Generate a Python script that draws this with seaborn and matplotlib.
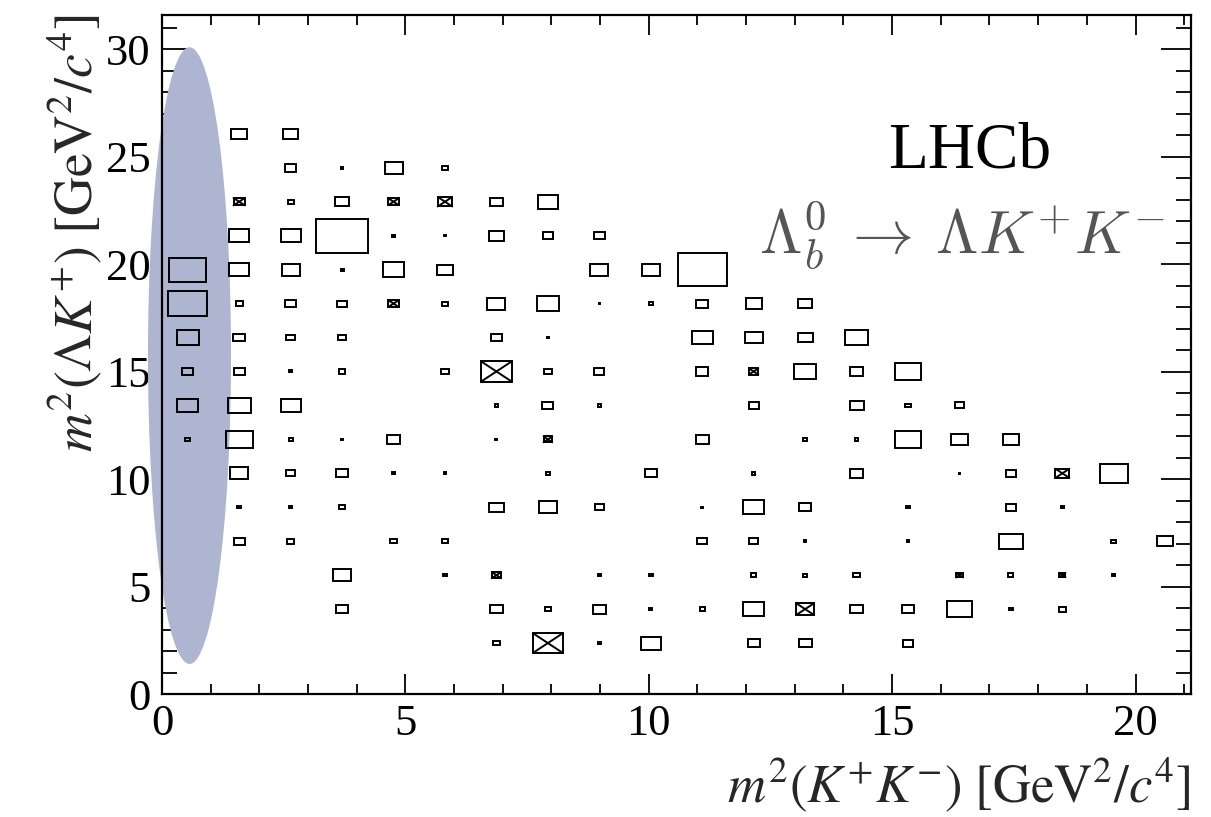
import numpy as np
import matplotlib
matplotlib.use("Agg")
import matplotlib.pyplot as plt
from matplotlib.patches import Rectangle, Ellipse
import seaborn as sns

# ---------------- data ----------------
n_xbins = 20
n_ybins = 20
x_max = 21.14
y_max = 31.6

# box size (fraction of bin) per x bin, one list per y bin; negative -> crossed box (ROOT style)
row_00 = [0] * 20
row_01 = [0, 0, 0, 0, 0, 0, 0.14, -0.57, 0.06, 0.38, 0, 0.24, 0.25, 0, 0.21, 0, 0, 0, 0, 0]
row_02 = [0, 0, 0, 0.23, 0, 0, 0.25, 0.13, 0.26, 0.06, 0.10, 0.41, -0.34, 0.25, 0.25, 0.49, 0.08, 0.14, 0, 0]
row_03 = [0, 0, 0, 0.36, 0, 0.06, -0.18, 0, 0.06, 0.07, 0, 0.10, 0.08, 0.12, 0, -0.13, 0.10, -0.12, 0.06, 0]
row_04 = [0, 0.21, 0.14, 0, 0.13, 0.12, 0, 0, 0, 0, 0.19, 0.18, 0.05, 0, 0.05, 0, 0.45, 0, 0.10, 0.31]
row_05 = [0, 0.07, 0.05, 0.12, 0, 0, 0.28, 0.36, 0.18, 0, 0.03, 0.41, 0.23, 0, 0.06, 0, 0.19, 0.07, 0, 0]
row_06 = [0, 0.35, 0.18, 0.23, 0.05, 0.05, 0, 0.07, 0, 0.23, 0, 0.07, 0, 0.25, 0, 0.03, 0.21, -0.27, 0.55, 0]
row_07 = [0.09, 0.52, 0.08, 0.04, 0.27, 0, 0.04, -0.17, 0, 0, 0.26, 0, 0.07, 0.07, 0.52, 0.34, 0.31, 0, 0, 0]
row_08 = [0.40, 0.45, 0.39, 0, 0, 0, 0.07, 0.21, 0.07, 0, 0, 0.20, 0, 0.27, 0.10, 0.18, 0, 0, 0, 0]
row_09 = [0.22, 0.22, 0.06, 0.12, 0, 0.16, -0.60, 0.16, 0.20, 0, 0.24, -0.18, 0.43, 0.25, 0.52, 0, 0, 0, 0, 0]
row_10 = [0.43, 0.23, 0.17, 0.16, 0, 0, 0.21, 0.03, 0, 0, 0.40, 0.35, 0.29, 0.46, 0, 0, 0, 0, 0, 0]
row_11 = [0.75, 0.14, 0.20, 0.18, -0.20, 0.12, 0.35, 0.43, 0.03, 0.07, 0.24, 0.31, 0.28, 0, 0, 0, 0, 0, 0, 0]
row_12 = [0.71, 0.39, 0.35, 0.06, 0.42, 0.30, 0, 0, 0.35, 0.35, 0.96, 0, 0, 0, 0, 0, 0, 0, 0, 0]
row_13 = [0, 0.39, 0.39, 1.00, 0.06, 0.03, 0.30, 0.20, 0.22, 0, 0, 0, 0, 0, 0, 0, 0, 0, 0, 0]
row_14 = [0, -0.22, 0.12, 0.27, -0.20, -0.28, 0.24, 0.40, 0, 0, 0, 0, 0, 0, 0, 0, 0, 0, 0, 0]
row_15 = [0, 0, 0.22, 0.05, 0.35, 0.12, 0, 0, 0, 0, 0, 0, 0, 0, 0, 0, 0, 0, 0, 0]
row_16 = [0, 0.30, 0.30, 0, 0, 0, 0, 0, 0, 0, 0, 0, 0, 0, 0, 0, 0, 0, 0, 0]
row_17 = [0] * 20
row_18 = [0] * 20
row_19 = [0] * 20

# phase-space excluded band (ellipse) centre / half-axes
ellipse_center = (0.565, 15.75)
ellipse_halfaxes = (0.853, 14.35)

x_ticks = [0, 5, 10, 15, 20]
y_ticks = [0, 5, 10, 15, 20, 25, 30]

# ---------------- plot ----------------
sns.set_theme(style="ticks")
plt.rcParams["font.family"] = ["Liberation Serif", "DejaVu Serif"]

fig = plt.figure(figsize=(12.11, 8.17), dpi=100)
ax = fig.add_axes([162 / 1211, 1 - 694 / 817, (1191 - 162) / 1211, (694 - 15) / 817])

rows = np.array([row_00, row_01, row_02, row_03, row_04, row_05, row_06, row_07, row_08, row_09,
                 row_10, row_11, row_12, row_13, row_14, row_15, row_16, row_17, row_18, row_19])
x_edges = np.linspace(0, x_max, n_xbins + 1)
y_edges = np.linspace(0, y_max, n_ybins + 1)
xc = 0.5 * (x_edges[:-1] + x_edges[1:])
yc = 0.5 * (y_edges[:-1] + y_edges[1:])
bw = x_edges[1] - x_edges[0]
bh = y_edges[1] - y_edges[0]

ell = Ellipse(ellipse_center, 2 * ellipse_halfaxes[0], 2 * ellipse_halfaxes[1],
              facecolor="#adb5d1", edgecolor="none", zorder=1, clip_on=False)
ax.add_patch(ell)

lw = 1.4
for j in range(n_ybins):
    for i in range(n_xbins):
        v = rows[j, i]
        if v == 0:
            continue
        s = abs(v)
        w, h = s * bw, s * bh
        x0, y0 = xc[i] - w / 2, yc[j] - h / 2
        ax.add_patch(Rectangle((x0, y0), w, h, fill=False, edgecolor="black", lw=lw, zorder=3))
        if v < 0:
            ax.plot([x0, x0 + w], [y0, y0 + h], color="black", lw=lw, zorder=3)
            ax.plot([x0, x0 + w], [y0 + h, y0], color="black", lw=lw, zorder=3)

ax.set_xlim(0, x_max)
ax.set_ylim(0, y_max)
ax.set_xticks(x_ticks)
ax.set_yticks(y_ticks)
ax.xaxis.set_minor_locator(matplotlib.ticker.MultipleLocator(1))
ax.yaxis.set_minor_locator(matplotlib.ticker.MultipleLocator(1))
ax.tick_params(axis="both", which="both", direction="in", top=True, right=True,
               colors="black", width=1.3, labelsize=32)
ax.tick_params(axis="x", which="major", length=14.4, pad=7)
ax.tick_params(axis="x", which="minor", length=7.2)
ax.tick_params(axis="y", which="major", length=21.6, pad=8)
ax.tick_params(axis="y", which="minor", length=10.8)
for sp in ax.spines.values():
    sp.set_linewidth(1.6)
    sp.set_color("black")
    sp.set_zorder(5)
ax.set_facecolor("white")

fig.text(1191 / 1211, 1 - 785 / 817, r"$m^{2}(K^{+}K^{-})\ [\mathrm{GeV}^{2}/c^{4}]$",
         ha="right", va="center", fontsize=38, math_fontfamily="stix")
fig.text(75 / 1211, 1 - 14 / 817, r"$m^{2}(\mathit{\Lambda} K^{+})\ [\mathrm{GeV}^{2}/c^{4}]$",
         ha="center", va="top", rotation=90, fontsize=38.5, math_fontfamily="stix")

ax.text(970 / 1211, 1 - 167 / 817, "LHCb", transform=fig.transFigure, ha="center",
        va="baseline", fontsize=47, color="black")
ax.text(759 / 1211, 1 - 253 / 817, r"$\Lambda_b^0 \:\rightarrow\: \Lambda K^{+} K^{-}$",
        transform=fig.transFigure, ha="left", va="baseline", fontsize=44,
        color="#555555", math_fontfamily="cm")

fig.savefig("out.png", dpi=100)
